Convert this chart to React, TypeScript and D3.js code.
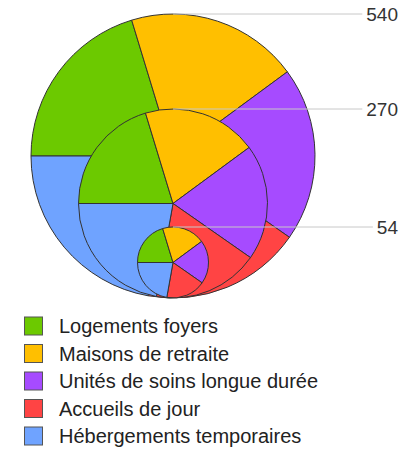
import * as d3 from "d3";

// categories and their share of each circle
const categories = [
  "Logements foyers",
  "Maisons de retraite",
  "Unités de soins longue durée",
  "Accueils de jour",
  "Hébergements temporaires",
];
const shares = [20.3, 19.6, 19.8, 18.1, 22.2];
const colors = ["#6cc900", "#ffbf00", "#a64bff", "#ff4444", "#6fa3ff"];

// proportional circle sizes (legend values)
const sizeValues = [540, 270, 54];

const W = 413;
const H = 449;

export default function App() {
  const cx = 173;
  const baseY = 298;

  // radius scale for the proportional circles
  const rScale = d3.scaleLinear().domain([54, 270, 540]).range([35.5, 94.5, 142]);

  const pie = d3
    .pie<number>()
    .sort(null)
    .startAngle(-Math.PI / 2)
    .endAngle((3 * Math.PI) / 2);
  const slices = pie(shares);

  const labelRight = 398;
  const fontSize = 19;

  return (
    <svg
      width={W}
      height={H}
      style={{ position: "absolute", left: 0, top: 0, fontFamily: "'Liberation Sans', Arial, sans-serif" }}
    >
      {sizeValues.map((v) => {
        const r = rScale(v);
        const arc = d3.arc<d3.PieArcDatum<number>>().innerRadius(0).outerRadius(r);
        return (
          <g key={v} transform={`translate(${cx},${baseY - r})`}>
            {slices.map((s, i) => (
              <path
                key={i}
                d={arc(s) || ""}
                fill={colors[i]}
                stroke="#333"
                strokeWidth={1}
                strokeLinejoin="round"
              />
            ))}
          </g>
        );
      })}

      {/* size legend lines and labels */}
      {sizeValues.map((v) => {
        const top = baseY - 2 * rScale(v);
        const label = String(v);
        const textStart = labelRight - label.length * fontSize * 0.556;
        return (
          <g key={"l" + v}>
            <line
              x1={cx}
              x2={textStart - 4}
              y1={top}
              y2={top}
              stroke="#c8c8c8"
              strokeWidth={1}
            />
            <text
              x={labelRight}
              y={top}
              dy="0.35em"
              textAnchor="end"
              fontSize={fontSize}
              fill="#333"
            >
              {label}
            </text>
          </g>
        );
      })}

      {/* legend */}
      {categories.map((c, i) => {
        const y = 326 + i * 27.5;
        return (
          <g key={c}>
            <rect
              x={24.5}
              y={y - 9}
              width={18}
              height={18}
              fill={colors[i]}
              stroke="#555"
              strokeWidth={1}
            />
            <text x={59} y={y} dy="0.35em" fontSize={20} fill="#222">
              {c}
            </text>
          </g>
        );
      })}
    </svg>
  );
}
